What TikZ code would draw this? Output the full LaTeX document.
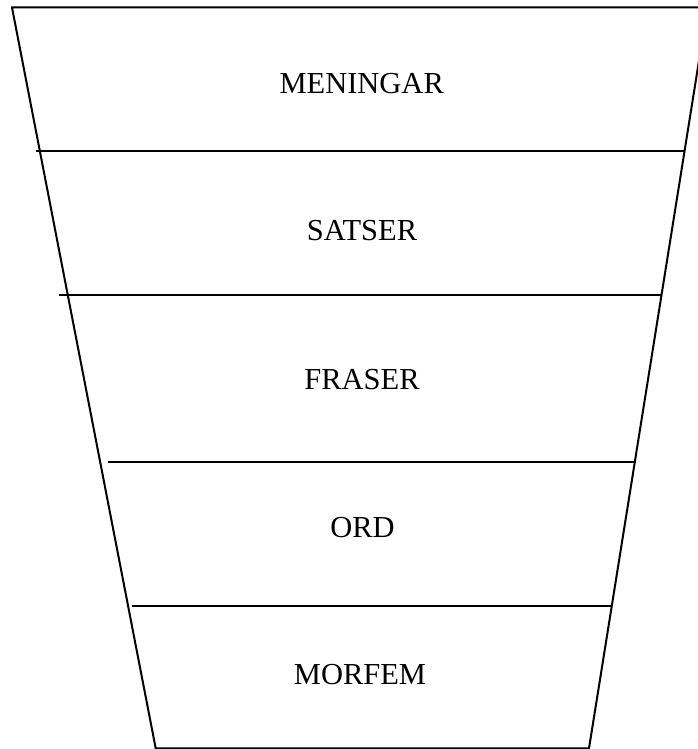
\documentclass[tikz,border=0pt]{standalone}
\usepackage{fontspec}
\setmainfont{Liberation Serif}
\begin{document}
\begin{tikzpicture}[x=1pt,y=-1pt,
  edge/.style={line width=2pt,line cap=rect},
  divider/.style={line width=1.9pt},
  label/.style={anchor=base,inner sep=0pt,font=\fontsize{30.5}{36}\selectfont}]
\useasboundingbox (0,0) rectangle (698,749);
\clip (0,0) rectangle (698,749);
% outline
\coordinate (tl) at (12,7.5);
\coordinate (tr) at (707.5,7.5);
\coordinate (br) at (589,748.3);
\coordinate (bl) at (155.7,748.3);
\draw[edge] (bl) -- (tl) -- (tr) -- (br) -- (bl);
% dividers
\coordinate (a1) at (36,151);   \coordinate (b1) at (685,151);
\coordinate (a2) at (59.3,295); \coordinate (b2) at (661.3,295);
\coordinate (a3) at (107.7,462.3); \coordinate (b3) at (635.7,462.3);
\coordinate (a4) at (131.7,605.7); \coordinate (b4) at (611.7,605.7);
\draw[divider] (a1) -- (b1);
\draw[divider] (a2) -- (b2);
\draw[divider] (a3) -- (b3);
\draw[divider] (a4) -- (b4);
% labels
\node[label] (meningar) at (361.7,94) {MENINGAR};
\node[label] (satser) at (362,240.7) {SATSER};
\node[label] (fraser) at (362,389) {FRASER};
\node[label] (ord) at (362.5,537.7) {ORD};
\node[label] (morfem) at (360,684.3) {MORFEM};
\end{tikzpicture}
\end{document}
